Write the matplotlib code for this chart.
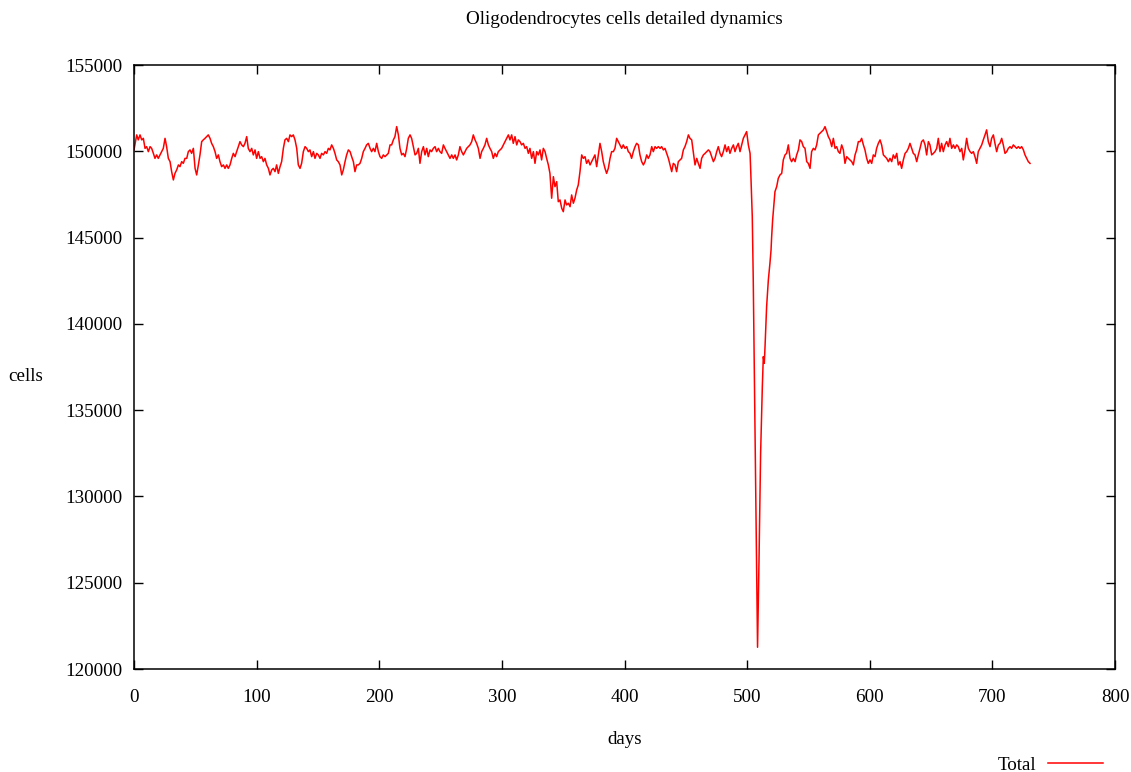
import matplotlib
matplotlib.use("Agg")
import matplotlib.pyplot as plt

plt.rcParams['font.family'] = ['Liberation Serif', 'DejaVu Serif']

days = [
    0.0, 2.2, 3.5, 4.9, 6.3, 7.6, 9.0, 10.3, 11.7, 13.1, 14.4, 15.8, 17.1, 18.5, 19.8, 21.2, 22.6, 23.9, 25.3, 26.6,
    28.0, 29.4, 30.7, 32.1, 33.4, 34.8, 36.2, 37.5, 38.9, 40.2, 41.6, 43.0, 44.3, 45.7, 47.0, 48.4, 49.8, 51.1, 52.5, 53.8,
    55.2, 56.5, 57.9, 59.3, 60.6, 62.0, 63.3, 64.7, 66.1, 67.4, 68.8, 70.1, 71.5, 72.9, 74.2, 75.6, 76.9, 78.3, 79.7, 81.0,
    82.4, 83.7, 85.1, 86.4, 87.8, 89.2, 90.5, 91.9, 93.2, 94.6, 96.0, 97.3, 98.7, 100.0, 101.4, 102.8, 104.1, 105.5, 106.8, 108.2,
    109.6, 110.9, 112.3, 113.6, 115.0, 116.3, 117.7, 119.1, 120.4, 121.8, 123.1, 124.5, 125.9, 127.2, 128.6, 129.9, 131.3, 132.7, 134.0, 135.4,
    136.7, 138.1, 139.5, 140.8, 142.2, 143.5, 144.9, 146.3, 147.6, 149.0, 150.3, 151.7, 153.0, 154.4, 155.8, 157.1, 158.5, 159.8, 161.2, 162.6,
    163.9, 165.3, 166.6, 168.0, 169.4, 170.7, 172.1, 173.4, 174.8, 176.2, 177.5, 178.9, 180.2, 181.6, 182.9, 184.3, 185.7, 187.0, 188.4, 189.7,
    191.1, 192.5, 193.8, 195.2, 196.5, 197.9, 199.3, 200.6, 202.0, 203.3, 204.7, 206.1, 207.4, 208.8,
    210.1, 211.5, 212.8, 214.2, 215.6, 216.9, 218.3, 219.6, 221.0, 222.4, 223.7, 225.1, 226.4, 227.8, 229.2, 230.5, 231.9, 233.2, 234.6, 236.0,
    237.3, 238.7, 240.0, 241.4, 242.7, 244.1, 245.5, 246.8, 248.2, 249.5, 250.9, 252.3, 253.6, 255.0, 256.3, 257.7, 259.1, 260.4, 261.8, 263.1,
    264.5, 265.8, 267.2, 268.6, 269.9, 271.3, 272.6, 274.0, 275.4, 276.7, 278.1, 279.4, 280.8, 282.2, 283.5, 284.9, 286.2, 287.6, 289.0, 290.3,
    291.7, 293.0, 294.4, 295.7, 297.1, 298.5, 299.8, 301.2, 302.5, 303.9, 305.3, 306.6, 308.0, 309.3, 310.7, 312.1, 313.4, 314.8, 316.1, 317.5,
    318.9, 320.2, 321.6, 322.9, 324.3, 325.7, 327.0, 328.4, 329.7, 331.1, 332.4, 333.8, 335.2, 336.5, 337.9, 339.2, 340.6, 342.0, 343.3, 344.7,
    346.0, 347.4, 348.8, 350.1, 351.5, 352.8, 354.2, 355.6, 356.9, 358.3, 359.6, 361.0, 362.3, 363.7, 365.1, 366.4, 367.8, 369.1, 370.5, 371.9,
    373.2, 374.6, 375.9, 377.3, 378.7, 380.0, 381.4, 382.7, 384.1, 385.4, 386.8, 388.2, 389.5, 390.9, 392.2, 393.6, 395.0, 396.3, 397.7, 399.0,
    400.4, 401.8, 403.1, 404.5,
    405.8, 407.2, 408.6, 409.9, 411.3, 412.6, 414.0, 415.4, 416.7, 418.1, 419.4, 420.8, 422.2, 423.5, 424.9, 426.2, 427.6, 429.0, 430.3, 431.7,
    433.0, 434.4, 435.8, 437.1, 438.5, 439.8, 441.2, 442.5, 443.9, 445.3, 446.6, 448.0, 449.3, 450.7, 452.1, 453.4, 454.8, 456.1, 457.5, 458.9,
    460.2, 461.6, 462.9, 464.3, 465.7, 467.0, 468.4, 469.7, 471.1, 472.5, 473.8, 475.2, 476.5, 477.9, 479.2, 480.6, 482.0, 483.3, 484.7, 486.0,
    487.4, 488.8, 490.1, 491.5, 492.8, 494.2, 495.6, 496.9, 498.3, 499.6, 501.0, 502.4,
    503.0, 504.2, 505.0, 506.4, 507.7, 508.5, 509.7, 511.0, 512.4, 513.2, 514.0, 514.6, 515.9, 517.3, 518.6, 519.5, 520.0, 520.8, 521.9, 522.7,
    524.1, 525.4, 526.8, 528.2, 529.5, 530.9, 532.2, 533.6,
    535.0, 536.3, 537.7, 539.1, 540.4, 541.8, 543.1, 544.5, 545.8, 547.2, 548.6, 549.9, 551.3, 552.6, 554.0, 555.4, 556.7, 558.1, 559.4, 560.8,
    562.2, 563.5, 564.9, 566.2, 567.6, 569.0, 570.3, 571.7, 573.0, 574.4, 575.7, 577.1, 578.5, 579.8, 581.2, 582.5,
    585.3, 586.6, 588.0, 589.3, 590.7, 592.1, 593.4, 594.8, 596.1, 597.5, 598.8, 600.2, 601.6, 602.9, 604.3, 605.6, 607.0, 608.4, 609.7, 611.1,
    612.4, 613.8, 615.2, 616.5, 617.9, 619.2, 620.6, 622.0, 623.3, 624.7, 626.0, 627.4, 628.8, 630.1, 631.5, 632.8, 634.2, 635.5, 636.9, 638.3,
    639.6, 641.0, 642.3, 643.7, 645.1, 646.4, 647.8, 649.1, 650.5, 651.9, 653.2, 654.6, 655.9, 657.3, 658.6, 660.0, 661.4, 662.7, 664.1, 665.4,
    666.8, 668.2, 669.5, 670.9, 672.2, 673.6, 675.0, 676.3, 677.7, 679.0, 680.4, 681.8, 683.1, 684.5, 685.8, 687.2, 688.5, 689.9, 691.3, 692.6,
    694.0, 695.3, 696.7, 698.1, 699.4, 700.8, 702.1, 703.5, 704.9, 706.2, 707.6, 708.9, 710.3, 711.7, 713.0, 714.4, 715.7, 717.1, 718.5, 719.8,
    721.2, 722.5, 723.9, 725.3, 726.6, 728.0, 729.3, 730.7,
]

cells = [
    150080, 150950, 150660, 150950, 150660, 150750, 150170, 150270, 149980, 150270, 150170, 149880, 149590, 149790, 149590, 149790, 149980, 150170, 150750, 150270,
    149590, 149400, 148820, 148340, 148720, 148920, 149210, 149110, 149400, 149300, 149590, 149590, 149980, 150080, 149880, 150170, 149010, 148630, 149210, 149790,
    150560, 150660, 150750, 150850, 150950, 150750, 150460, 150270, 149980, 149590, 149790, 149400, 149110, 149210, 149010, 149210, 149010, 149210, 149590, 149880,
    149690, 149980, 150270, 150560, 150370, 150270, 150460, 150850, 150170, 149980, 150170, 149790, 150080, 149590, 149980, 149590, 149690, 149400, 149590, 149210,
    149010, 148630, 148920, 149010, 148820, 149210, 148720, 149110, 149400, 150170, 150660, 150750, 150560, 150950, 150850, 150950, 150660, 150170, 149210, 149010,
    149300, 149980, 150270, 150170, 149980, 150080, 149690, 149980, 149590, 149880, 149790, 149590, 149880, 149790, 149980, 149880, 150170, 150080, 150370, 150170,
    149880, 149500, 149400, 149210, 148630, 148920, 149400, 149790, 150080, 149980, 149690, 149400, 148820, 149210, 149210, 149300, 149590, 149980, 150170, 150370,
    150460, 150170, 149980, 150170, 149980, 150460, 149980, 149690, 149590, 149790, 149690, 149790, 149880, 150370,
    150370, 150660, 150850, 151430, 150950, 150170, 149790, 149880, 149690, 150170, 150750, 150950, 150750, 150270, 149790, 149880, 150170, 149300, 149980, 150270,
    149790, 150170, 149690, 150080, 149980, 150170, 150270, 149980, 150170, 149980, 149880, 150370, 150170, 149980, 149790, 149590, 149790, 149590, 149790, 149500,
    149790, 150270, 149980, 149790, 149980, 150170, 150270, 150370, 150560, 150950, 150660, 150460, 150170, 149590, 149980, 150170, 150370, 150750, 150370, 150170,
    149980, 149590, 149880, 149690, 149980, 150080, 150170, 150370, 150560, 150750, 150950, 150660, 150950, 150460, 150850, 150370, 150660, 150560, 150370, 150460,
    150170, 150270, 149880, 150170, 149590, 149980, 149300, 149980, 149790, 150080, 149500, 150170, 149980, 149590, 149210, 148720, 147280, 148530, 147950, 148240,
    147080, 147180, 146700, 146500, 147180, 146890, 146990, 146790, 147470, 146990, 147280, 147760, 148050, 148820, 149790, 149590, 149690, 149300, 149500, 149210,
    149400, 149590, 149790, 149110, 149790, 150460, 149980, 149400, 149010, 148720, 149010, 149590, 149980, 149980, 150170, 150750, 150560, 150370, 150170, 150370,
    150170, 150270, 149980, 149880,
    149590, 149980, 150270, 150460, 150370, 149790, 149400, 149210, 149400, 149790, 149590, 149790, 150270, 149980, 150270, 150170, 150270, 150170, 150270, 150080,
    150170, 149880, 149590, 149210, 148820, 149300, 149210, 148820, 149400, 149500, 149590, 150080, 150270, 150560, 150950, 150750, 150660, 149980, 149210, 149590,
    149300, 149010, 149590, 149790, 149880, 149980, 150080, 149980, 149690, 149400, 149590, 149980, 150270, 149880, 149690, 149980, 150370, 149980, 150270, 149880,
    150170, 150370, 149980, 150270, 150460, 149980, 150370, 150750, 150950, 151140, 150370, 149880,
    148730, 146210, 142540, 134000, 126120, 121260, 126320, 132500, 136360, 138100, 137710, 138680, 141000, 142540, 143510, 144280, 145050, 146020, 146990, 147660,
    147950, 148430, 148630, 148720, 149500, 149790, 149880, 150370,
    149590, 149400, 149590, 149400, 149790, 150080, 150660, 150560, 150270, 150170, 149400, 149300, 149010, 149980, 150170, 150080, 150370, 150950, 151040, 151140,
    151240, 151430, 151140, 150850, 150660, 150270, 150750, 150170, 150270, 149980, 149880, 150370, 150080, 149300, 149690, 149590,
    149400, 149210, 149790, 150080, 150560, 150560, 150750, 150370, 150080, 149590, 149300, 149500, 149300, 149790, 149690, 150170, 150460, 150660, 150370, 149790,
    149690, 149590, 149400, 149590, 149400, 149790, 149590, 149880, 149210, 149400, 149010, 149500, 149880, 149980, 150170, 150460, 150170, 149880, 149790, 149400,
    149790, 150170, 150560, 150660, 150370, 149790, 150560, 150370, 149790, 149880, 149980, 150170, 150750, 149980, 150460, 149980, 150370, 150560, 150270, 150750,
    150170, 150370, 150170, 150370, 150270, 149980, 150170, 149500, 150080, 150750, 150170, 149980, 149880, 149980, 149690, 149300, 149980, 150170, 150370, 150660,
    150950, 151240, 150560, 150270, 150750, 150950, 150460, 149980, 150370, 150460, 150750, 150370, 149880, 149980, 150170, 150270, 150170, 150370, 150270, 150170,
    150270, 150170, 150270, 150080, 149790, 149590, 149400, 149300,
]

series_label = "Total"
title = "Oligodendrocytes cells detailed dynamics"
x_label = "days"
y_label = "cells"
x_ticks = [0, 100, 200, 300, 400, 500, 600, 700, 800]
y_ticks = [120000, 125000, 130000, 135000, 140000, 145000, 150000, 155000]

W, H = 1131, 772
fig = plt.figure(figsize=(W / 100, H / 100), dpi=100)
ax = fig.add_axes([134 / W, 1 - 669 / H, (1115 - 134) / W, (669 - 65) / H])

line, = ax.plot(days, cells, color='#ff0000', lw=1.1, label=series_label)

ax.set_xlim(0, 800)
ax.set_ylim(120000, 155000)
ax.set_xticks(x_ticks)
ax.set_yticks(y_ticks)
ax.set_xticklabels([str(t) for t in x_ticks])
ax.set_yticklabels([str(t) for t in y_ticks])

fs = 13.7
ax.tick_params(direction='in', length=6.5, width=1.0, top=True, right=True,
               labelsize=fs, colors='black')
ax.tick_params(axis='x', pad=14.5)
ax.tick_params(axis='y', pad=8)
for s in ax.spines.values():
    s.set_linewidth(1.1)
    s.set_color('black')

fig.text(624.5 / W, 1 - 20 / H, title, ha='center', va='center', fontsize=fs)
fig.text(624.5 / W, 1 - 740 / H, x_label, ha='center', va='center', fontsize=fs)
fig.text(26 / W, 1 - 377 / H, y_label, ha='center', va='center', fontsize=fs)

leg = fig.legend(handles=[line], labels=[series_label], loc='center right',
                 bbox_to_anchor=(1103 / W, 1 - 765 / H), bbox_transform=fig.transFigure,
                 frameon=False, markerfirst=False, borderpad=0, borderaxespad=0,
                 handlelength=2.9, handletextpad=0.6, fontsize=fs)

fig.savefig("out.png", dpi=100)
